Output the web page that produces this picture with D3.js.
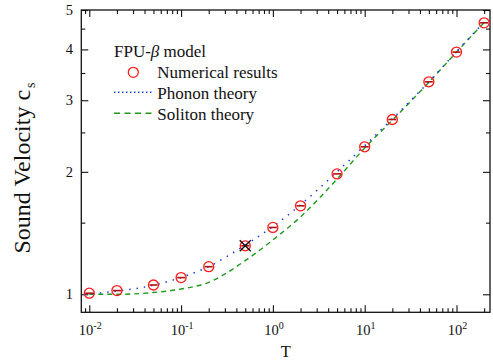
<!DOCTYPE html>
<html>
<head>
<meta charset="utf-8">
<script src="https://cdn.jsdelivr.net/npm/d3@7"></script>
<style>
  body { margin: 0; background: #fff; }
</style>
</head>
<body>
<div id="chart"></div>
<script>
// data
const temps = [0.01, 0.02, 0.05, 0.1, 0.2, 0.5, 1, 2, 5, 10, 20, 50, 100, 200];
const numerical = [1.006, 1.021, 1.054, 1.099, 1.169, 1.316, 1.46, 1.65, 1.977, 2.305, 2.69, 3.33, 3.94, 4.65];
const phononT = [0.009, 0.01, 0.02, 0.05, 0.1, 0.2, 0.5, 1, 2, 5, 10, 20, 50, 100, 200];
const phonon = [1.0, 1.002, 1.018, 1.053, 1.1, 1.17, 1.322, 1.467, 1.66, 2.0, 2.32, 2.7, 3.33, 3.95, 4.67];
const solitonT = [0.01, 0.02, 0.05, 0.1, 0.2, 0.5, 1, 2, 5, 10, 20, 50, 100, 200];
const soliton = [1.0, 1.0, 1.01, 1.03, 1.07, 1.21, 1.36, 1.55, 1.92, 2.29, 2.68, 3.32, 3.94, 4.66];
const markedT = 0.5;                      // point with the black cross
const xExponents = [-2, -1, 0, 1, 2];
const yMajor = [1, 2, 3, 4, 5];
const yMinor = [1.5, 2.5, 3.5, 4.5];
const legendTitle = ["FPU-", "\u03B2", " model"];
const legendLabels = ["Numerical results", "Phonon theory", "Soliton theory"];

const width = 493, height = 362;
const frame = {l: 81.3, r: 490, t: 10, b: 312.3};

const svg = d3.select("#chart").append("svg")
    .attr("width", width)
    .attr("height", height)
    .attr("font-family", "'Liberation Serif', 'DejaVu Serif', serif");

const x = d3.scaleLog().domain([10 ** -2.087, 10 ** 2.365]).range([frame.l, frame.r]);
const y = d3.scaleLog().domain([0.903, 5]).range([frame.b, frame.t]);

// minor x ticks 2..9 per decade, inside the domain
const xMinor = [];
for (let e = -3; e <= 2; e++) {
    for (let k = 2; k <= 9; k++) {
        const v = k * 10 ** e;
        if (v > x.domain()[0] && v < x.domain()[1]) xMinor.push(v);
    }
}
const xMajor = xExponents.map(e => 10 ** e);

// ticks, all pointing inward
const tickAxis = (axis, scale, values, size, transform) => {
    svg.append("g")
        .attr("transform", transform)
        .call(axis(scale).tickValues(values).tickSize(size).tickFormat(""))
        .call(g => g.select(".domain").remove())
        .call(g => g.selectAll("line").attr("stroke", "#111").attr("stroke-width", 1.1));
};
tickAxis(d3.axisBottom, x, xMajor, -7, `translate(0,${frame.b})`);
tickAxis(d3.axisBottom, x, xMinor, -4, `translate(0,${frame.b})`);
tickAxis(d3.axisTop, x, xMajor, -7, `translate(0,${frame.t})`);
tickAxis(d3.axisTop, x, xMinor, -4, `translate(0,${frame.t})`);
tickAxis(d3.axisLeft, y, yMajor, -7, `translate(${frame.l},0)`);
tickAxis(d3.axisLeft, y, yMinor, -4, `translate(${frame.l},0)`);
tickAxis(d3.axisRight, y, yMajor, -7, `translate(${frame.r},0)`);
tickAxis(d3.axisRight, y, yMinor, -4, `translate(${frame.r},0)`);

// frame
svg.append("rect")
    .attr("x", frame.l).attr("y", frame.t)
    .attr("width", frame.r - frame.l).attr("height", frame.b - frame.t)
    .attr("fill", "none").attr("stroke", "#111").attr("stroke-width", 1.3);

// x tick labels 10^n
const xl = svg.append("g").selectAll("text")
    .data(xExponents)
    .join("text")
    .attr("x", d => x(10 ** d) + 1)
    .attr("y", 335)
    .attr("text-anchor", "middle")
    .attr("font-size", 14.5)
    .attr("fill", "#111");
xl.append("tspan").text("10");
xl.append("tspan").attr("dy", -6).attr("font-size", 10).text(d => d < 0 ? "-" + (-d) : d);

// y tick labels
svg.append("g").selectAll("text")
    .data(yMajor)
    .join("text")
    .attr("x", 73)
    .attr("y", d => y(d) + 5)
    .attr("text-anchor", "end")
    .attr("font-size", 14.5)
    .attr("fill", "#111")
    .text(d => d);

// axis titles
svg.append("text")
    .attr("x", 285.7).attr("y", 357)
    .attr("text-anchor", "middle")
    .attr("font-size", 16.5)
    .attr("fill", "#111")
    .text("T");

const yt = svg.append("text")
    .attr("transform", "translate(29.5,168) rotate(-90)")
    .attr("text-anchor", "middle")
    .attr("font-size", 24)
    .attr("fill", "#111");
yt.append("tspan").text("Sound Velocity c");
yt.append("tspan").attr("dy", 5).attr("dx", 2).attr("font-size", 14).text("s");

// theory curves
const line = d3.line()
    .x(d => x(d[0]))
    .y(d => y(d[1]))
    .curve(d3.curveMonotoneX);

svg.append("path")
    .datum(solitonT.map((t, i) => [t, soliton[i]]))
    .attr("fill", "none")
    .attr("stroke", "#1f9a1f")
    .attr("stroke-width", 1.4)
    .attr("stroke-dasharray", "5,4")
    .attr("d", line);

svg.append("path")
    .datum(phononT.map((t, i) => [t, phonon[i]]))
    .attr("fill", "none")
    .attr("stroke", "#1133ee")
    .attr("stroke-width", 1.5)
    .attr("stroke-dasharray", "1.4,6")
    .attr("d", line);

// numerical points with small error bars
const pts = svg.append("g").selectAll("g")
    .data(temps.map((t, i) => [t, numerical[i]]))
    .join("g")
    .attr("transform", d => `translate(${x(d[0])},${y(d[1])})`);
pts.append("line")
    .attr("x1", -4).attr("x2", 4)
    .attr("stroke", "#b01010").attr("stroke-width", 1.6);
pts.append("circle")
    .attr("r", 5)
    .attr("fill", "none")
    .attr("stroke", "#ff1a1a")
    .attr("stroke-width", 1.3);

// black cross on one point
const mx = x(markedT), my = y(numerical[temps.indexOf(markedT)]);
svg.append("path")
    .attr("d", `M${mx - 5.5},${my - 5.5}L${mx + 5.5},${my + 5.5}M${mx - 5.5},${my + 5.5}L${mx + 5.5},${my - 5.5}`)
    .attr("stroke", "#111")
    .attr("stroke-width", 1.4);

// legend
const lg = svg.append("g");
const title = lg.append("text")
    .attr("x", 114).attr("y", 56.7)
    .attr("font-size", 17)
    .attr("fill", "#111");
title.append("tspan").text(legendTitle[0]);
title.append("tspan").attr("font-style", "italic").text(legendTitle[1]);
title.append("tspan").text(legendTitle[2]);

lg.append("circle")
    .attr("cx", 133.3).attr("cy", 72.3).attr("r", 5)
    .attr("fill", "none").attr("stroke", "#ff1a1a").attr("stroke-width", 1.3);
lg.append("line")
    .attr("x1", 114).attr("x2", 153).attr("y1", 92.3).attr("y2", 92.3)
    .attr("stroke", "#1133ee").attr("stroke-width", 1.5).attr("stroke-dasharray", "1.4,2.6");
lg.append("line")
    .attr("x1", 114).attr("x2", 153).attr("y1", 113.3).attr("y2", 113.3)
    .attr("stroke", "#1f9a1f").attr("stroke-width", 1.4).attr("stroke-dasharray", "6,4.5");

lg.selectAll("text.lab")
    .data(legendLabels)
    .join("text")
    .attr("class", "lab")
    .attr("x", 157.3)
    .attr("y", (d, i) => 77.7 + i * 21.2)
    .attr("font-size", 17)
    .attr("fill", "#111")
    .text(d => d);
</script>
</body>
</html>
